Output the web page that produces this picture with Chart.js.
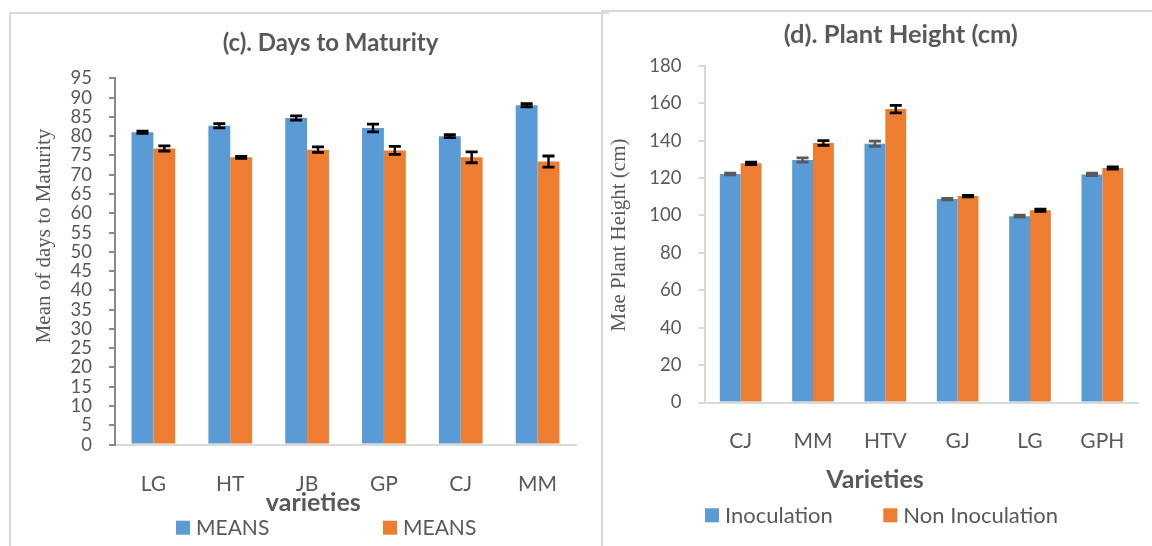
<!DOCTYPE html>
<html>
<head>
<meta charset="utf-8">
<script src="https://cdn.jsdelivr.net/npm/chart.js@4.4.1/dist/chart.umd.min.js"></script>
<style>
html,body{margin:0;padding:0;background:#fff;width:1152px;height:546px;overflow:hidden;}
#panelC{position:absolute;left:9px;top:12px;width:600px;height:600px;border-left:2px solid #d9d9d9;border-top:2px solid #d9d9d9;box-sizing:border-box;}
#panelD{position:absolute;left:601px;top:10px;width:600px;height:600px;border-left:2px solid #d9d9d9;border-top:2px solid #d9d9d9;box-sizing:border-box;}
#cC{position:absolute;left:0;top:0;}
#cD{position:absolute;left:601px;top:0;}
</style>
</head>
<body>
<div id="panelC"></div>
<div id="panelD"></div>
<canvas id="cC" width="601" height="546"></canvas>
<canvas id="cD" width="551" height="546"></canvas>
<script>
// ---------- data: (c) Days to Maturity ----------
const titleC = '(c). Days to Maturity';
const xTitleC = 'varieties';
const yTitleC = 'Mean of days to Maturity';
const varietiesC = ['LG', 'HT', 'JB', 'GP', 'CJ', 'MM'];
const seriesNameC1 = 'MEANS';
const seriesNameC2 = 'MEANS';
const meansC1 = [81.0, 82.7, 84.7, 82.1, 80.0, 88.0];
const meansC2 = [76.8, 74.5, 76.5, 76.3, 74.5, 73.4];
const errC1 = [0.3, 0.55, 0.55, 1.0, 0.4, 0.4];
const errC2 = [0.65, 0.25, 0.7, 1.05, 1.4, 1.45];
const yMinC = 0, yMaxC = 95, yStepC = 5;

// ---------- data: (d) Plant Height ----------
const titleD = '(d). Plant Height (cm)';
const xTitleD = 'Varieties';
const yTitleD = 'Mae Plant Height (cm)';
const varietiesD = ['CJ', 'MM', 'HTV', 'GJ', 'LG', 'GPH'];
const seriesNameD1 = 'Inoculation';
const seriesNameD2 = 'Non Inoculation';
const heightD1 = [122.1, 129.6, 138.3, 108.7, 99.6, 121.9];
const heightD2 = [127.8, 138.7, 156.8, 110.3, 102.8, 125.3];
const errD1 = [0.5, 1.1, 1.4, 0.4, 0.5, 0.7];
const errD2 = [0.6, 1.3, 2.0, 0.4, 0.6, 0.6];
const yMinD = 0, yMaxD = 180, yStepD = 20;

const BLUE = '#5B9BD5', ORANGE = '#ED7D31', TEXT = '#595959';

const errorBarPlugin = {
  id: 'errorBars',
  afterDatasetsDraw(chart, args, o) {
    const ctx = chart.ctx, ys = chart.scales.y;
    chart.data.datasets.forEach((ds, di) => {
      if (!ds.errors) return;
      const meta = chart.getDatasetMeta(di);
      ctx.save();
      ctx.strokeStyle = ds.errorColor || '#000';
      meta.data.forEach((bar, i) => {
        const v = ds.data[i], e = ds.errors[i];
        const yT = ys.getPixelForValue(v + e), yB = ys.getPixelForValue(v - e);
        const x = bar.x, hw = o.capHalf;
        ctx.lineWidth = o.stem;
        ctx.beginPath(); ctx.moveTo(x, yT); ctx.lineTo(x, yB); ctx.stroke();
        ctx.lineWidth = o.cap;
        ctx.beginPath();
        ctx.moveTo(x - hw, yT); ctx.lineTo(x + hw, yT);
        ctx.moveTo(x - hw, yB); ctx.lineTo(x + hw, yB);
        ctx.stroke();
      });
      ctx.restore();
    });
  }
};

const decorPlugin = {
  id: 'decor',
  afterDraw(chart, args, o) {
    const ctx = chart.ctx;
    ctx.save();
    ctx.fillStyle = TEXT;
    ctx.textAlign = 'center';
    ctx.textBaseline = 'alphabetic';
    ctx.font = o.title.font;
    ctx.fillText(o.title.text, o.title.x, o.title.y);
    ctx.font = o.xTitle.font;
    ctx.fillText(o.xTitle.text, o.xTitle.x, o.xTitle.y);
    ctx.save();
    ctx.translate(o.yTitle.x, o.yTitle.y);
    ctx.rotate(-Math.PI / 2);
    ctx.font = o.yTitle.font;
    ctx.textBaseline = 'middle';
    ctx.fillText(o.yTitle.text, 0, 0);
    ctx.restore();
    ctx.textAlign = 'left';
    ctx.font = o.legend.font;
    chart.data.datasets.forEach((ds, i) => {
      const bx = o.legend.x[i];
      ctx.fillStyle = ds.backgroundColor;
      ctx.fillRect(bx, o.legend.boxTop, 14, 14);
      ctx.fillStyle = TEXT;
      ctx.fillText(ds.label, bx + o.legend.gap, o.legend.base);
    });
    ctx.restore();
  }
};

function makeChart(id, cfg) {
  return new Chart(document.getElementById(id), {
    type: 'bar',
    data: {
      labels: cfg.labels,
      datasets: [
        { label: cfg.names[0], data: cfg.s1, errors: cfg.e1, errorColor: cfg.errColors[0],
          backgroundColor: BLUE, borderWidth: 0, categoryPercentage: cfg.catPct, barPercentage: 1 },
        { label: cfg.names[1], data: cfg.s2, errors: cfg.e2, errorColor: cfg.errColors[1],
          backgroundColor: ORANGE, borderWidth: 0, categoryPercentage: cfg.catPct, barPercentage: 1 }
      ]
    },
    options: {
      responsive: false,
      animation: false,
      events: [],
      layout: { padding: cfg.padding },
      plugins: {
        legend: { display: false },
        title: { display: false },
        tooltip: { enabled: false },
        errorBars: { stem: 2.4, cap: 2.8, capHalf: 6 },
        decor: cfg.decor
      },
      scales: {
        x: {
          grid: { display: false, drawTicks: false },
          border: { display: true, color: '#d9d9d9', width: 2 },
          ticks: { color: TEXT, font: { family: 'Lato', size: 21 }, padding: cfg.xPad, autoSkip: false, maxRotation: 0 },
          afterFit: s => { s.height = 70; }
        },
        y: {
          min: cfg.yMin, max: cfg.yMax,
          grid: { display: true, drawOnChartArea: false, drawTicks: true, tickLength: 6, color: cfg.axisColor, lineWidth: 2 },
          border: { display: true, color: cfg.axisColor, width: 2 },
          ticks: { stepSize: cfg.yStep, autoSkip: false, color: TEXT, font: { family: 'Lato', size: 18.5 }, padding: 17 },
          afterFit: s => { s.width = cfg.yWidth; }
        }
      }
    },
    plugins: [errorBarPlugin, decorPlugin]
  });
}

makeChart('cC', {
  labels: varietiesC, names: [seriesNameC1, seriesNameC2],
  s1: meansC1, s2: meansC2, e1: errC1, e2: errC2, errColors: ['#000', '#000'],
  yMin: yMinC, yMax: yMaxC, yStep: yStepC,
  catPct: 0.569, yWidth: 115, axisColor: '#8a8a8a', xPad: 27.5,
  padding: { left: 0, right: 25, top: 78.3, bottom: 31.4 },
  decor: {
    title: { text: titleC, font: 'bold 24px Lato', x: 330.5, y: 51.3 },
    xTitle: { text: xTitleC, font: 'bold 25px Lato', x: 313.3, y: 510.7 },
    yTitle: { text: yTitleC, font: '21px "Liberation Serif"', x: 44, y: 236 },
    legend: { font: '21px Lato', x: [176, 383], gap: 20, boxTop: 520.7, base: 534.5 }
  }
});

makeChart('cD', {
  labels: varietiesD, names: [seriesNameD1, seriesNameD2],
  s1: heightD1, s2: heightD2, e1: errD1, e2: errD2, errColors: ['#595959', '#000'],
  yMin: yMinD, yMax: yMaxD, yStep: yStepD,
  catPct: 0.576, yWidth: 103.5, axisColor: '#d9d9d9', xPad: 26.5,
  padding: { left: 0, right: 13.5, top: 65.7, bottom: 73.5 },
  decor: {
    title: { text: titleD, font: 'bold 25.5px Lato', x: 299.8, y: 43 },
    xTitle: { text: xTitleD, font: 'bold 25px Lato', x: 274, y: 488.3 },
    yTitle: { text: yTitleD, font: '21px "Liberation Serif"', x: 18, y: 235 },
    legend: { font: '22px Lato', x: [104, 282.3], gap: 20, boxTop: 508.3, base: 522.8 }
  }
});
</script>
</body>
</html>
